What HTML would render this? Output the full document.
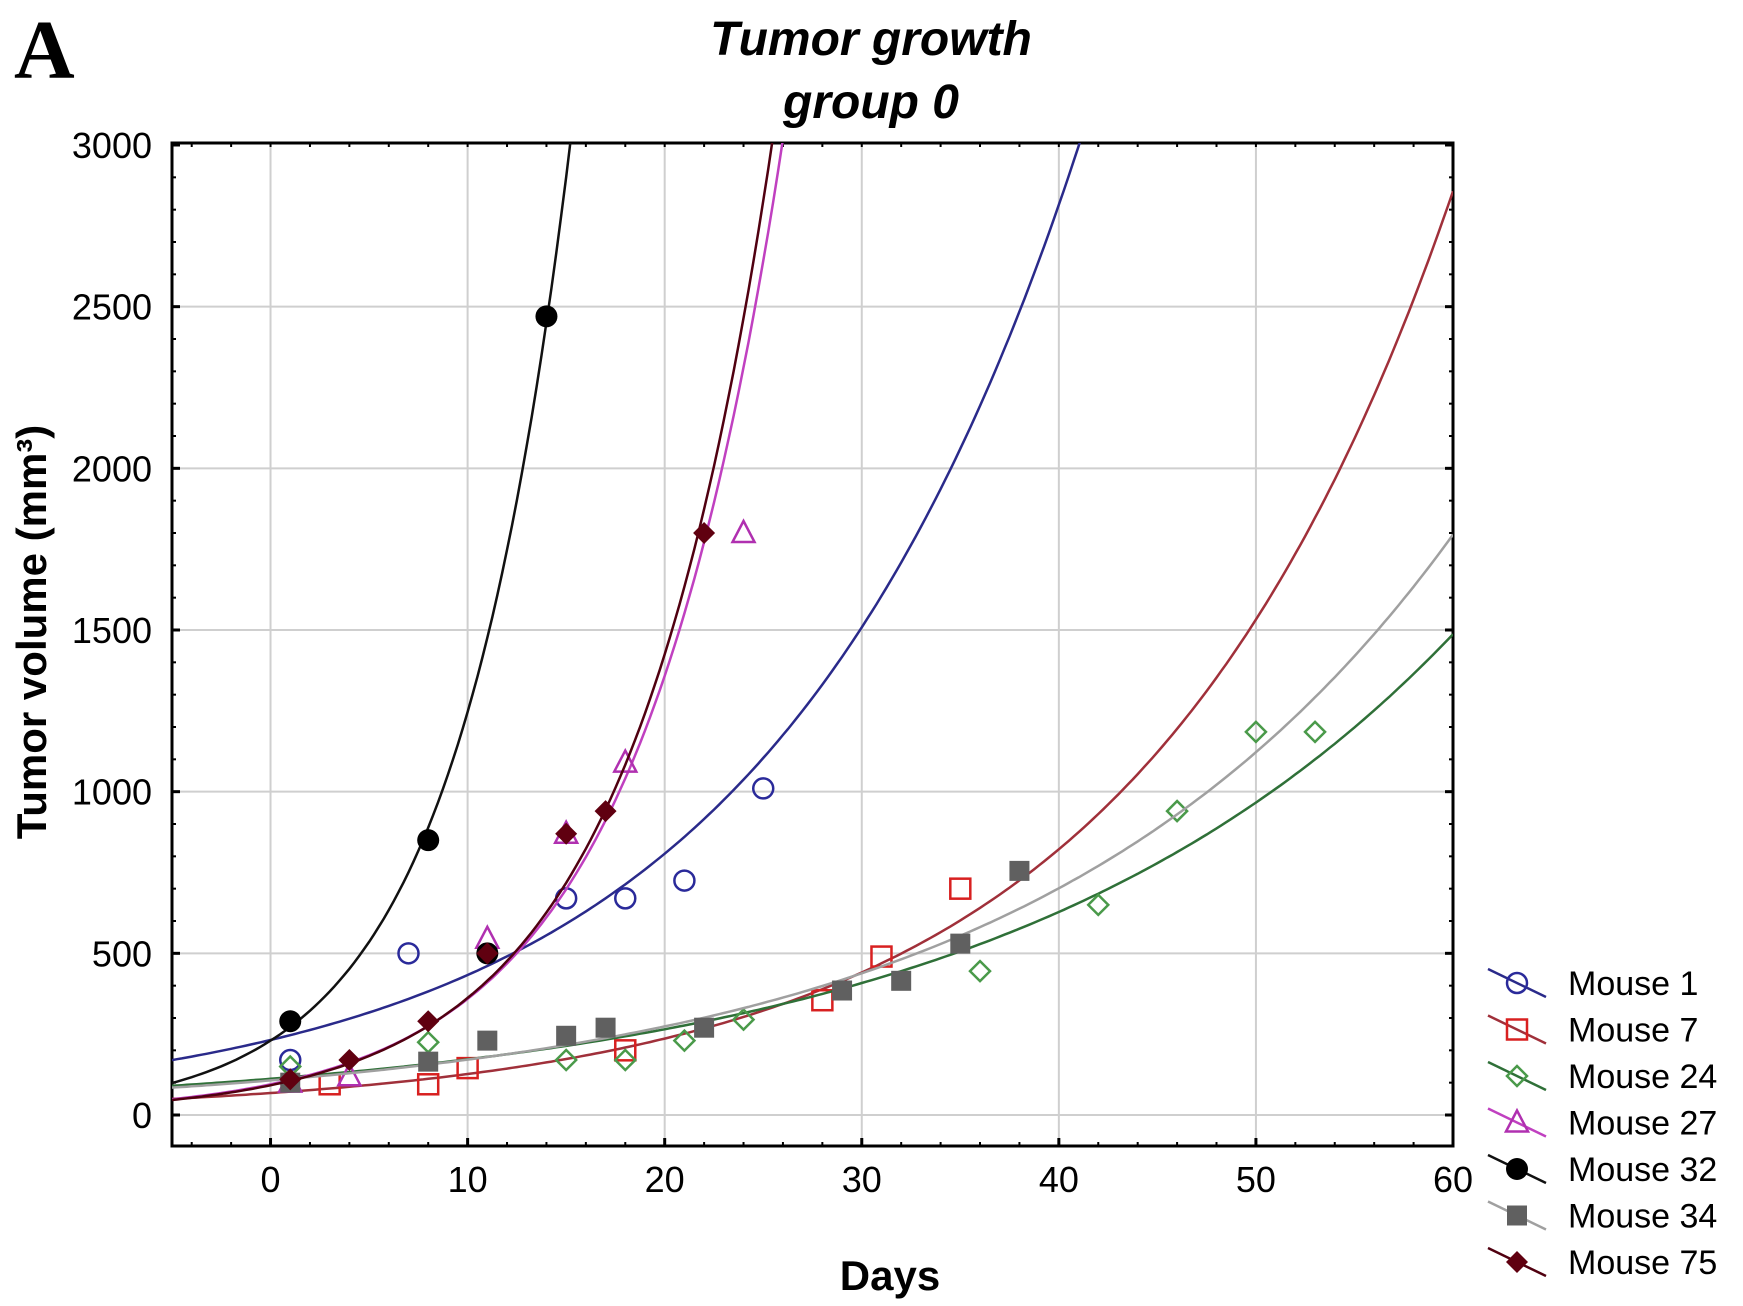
<!DOCTYPE html>
<html><head><meta charset="utf-8"><style>
html,body{margin:0;padding:0;background:#fff;}
svg{display:block;}
text{font-family:"Liberation Sans",sans-serif;}
</style></head><body>
<svg id="chart" width="1743" height="1306" viewBox="0 0 1743 1306" xmlns="http://www.w3.org/2000/svg">
<text x="14" y="78" style="font-family:'Liberation Serif',serif" font-weight="bold" font-size="84">A</text>
<text x="871" y="55" text-anchor="middle" font-weight="bold" font-style="italic" font-size="48">Tumor growth</text>
<text x="871" y="118" text-anchor="middle" font-weight="bold" font-style="italic" font-size="48">group 0</text>
<text transform="translate(46,632) rotate(-90)" text-anchor="middle" font-weight="bold" font-size="42">Tumor volume (mm³)</text>
<text x="890" y="1290" text-anchor="middle" font-weight="bold" font-size="42">Days</text>
<g id="grid"></g><g id="axes"></g><g id="series"></g><g id="legend"></g>
</svg>
<script>
const xTicks=[0,10,20,30,40,50,60];
const yTicks=[0,500,1000,1500,2000,2500,3000];
const seriesNames=["Mouse 1","Mouse 7","Mouse 24","Mouse 27","Mouse 32","Mouse 34","Mouse 75"];
const m1X=[1,7,15,18,21,25], m1Y=[170,500,670,670,725,1010];
const m7X=[3,8,10,18,28,31,35], m7Y=[95,95,145,200,355,490,700];
const m24X=[1,8,15,18,21,24,36,42,46,50,53], m24Y=[150,225,170,170,230,295,445,650,940,1185,1185];
const m27X=[1,4,11,15,18,24], m27Y=[100,120,545,870,1090,1800];
const m32X=[1,8,11,14], m32Y=[290,850,500,2470];
const m34X=[1,8,11,15,17,22,29,32,35,38], m34Y=[100,165,230,245,270,270,385,415,530,755];
const m75X=[1,4,8,11,15,17,22], m75Y=[110,170,290,500,870,940,1800];
// exponential fit parameters y = a*exp(b*x)
const fitA=[232,68,112,95,230,107,92];
const fitB=[0.0624,0.0623,0.0431,0.133,0.169,0.047,0.137];

const L=172,R=1453,T=143,B=1146;
const xMin=-5,xMax=60,y0px=1115,y3000px=145;
function sx(v){return L+(v-xMin)/(xMax-xMin)*(R-L);}
function sy(v){return y0px-(v/3000)*(y0px-y3000px);}
const NS="http://www.w3.org/2000/svg";
function mk(tag,attrs,parent){const e=document.createElementNS(NS,tag);for(const k in attrs)e.setAttribute(k,attrs[k]);parent.appendChild(e);return e;}
const grid=document.getElementById('grid'),axes=document.getElementById('axes'),ser=document.getElementById('series'),leg=document.getElementById('legend');

xTicks.forEach(t=>{
  if(t>xMin&&t<xMax){const g=mk('line',{x1:sx(t),x2:sx(t),y1:T,y2:B,stroke:'#cfcfcf','stroke-width':2},grid);
  
  }
  const tx=mk('text',{x:sx(t),y:B+46,'text-anchor':'middle','font-size':36},axes);tx.textContent=t;
  
  
  mk('line',{x1:sx(t),x2:sx(t),y1:B,y2:B-8,stroke:'#000','stroke-width':3},axes);
});
for(let t=-4;t<60;t+=2){mk('line',{x1:sx(t),x2:sx(t),y1:B,y2:B-4,stroke:'#000','stroke-width':2},axes);mk('line',{x1:sx(t),x2:sx(t),y1:T,y2:T+4,stroke:'#000','stroke-width':2},axes);}
yTicks.forEach(t=>{
  if(t<3000){const g=mk('line',{x1:L,x2:R,y1:sy(t),y2:sy(t),stroke:'#cfcfcf','stroke-width':2},grid);
  
  }
  const tx=mk('text',{x:L-20,y:sy(t)+13,'text-anchor':'end','font-size':36},axes);tx.textContent=t;
  
  
  mk('line',{x1:L,x2:L+8,y1:sy(t),y2:sy(t),stroke:'#000','stroke-width':3},axes);
  mk('line',{x1:R,x2:R-8,y1:sy(t),y2:sy(t),stroke:'#000','stroke-width':3},axes);
});
for(let t=100;t<3000;t+=100){mk('line',{x1:L,x2:L+4,y1:sy(t),y2:sy(t),stroke:'#000','stroke-width':2},axes);mk('line',{x1:R,x2:R-4,y1:sy(t),y2:sy(t),stroke:'#000','stroke-width':2},axes);}
const frame=mk('rect',{x:L,y:T,width:R-L,height:B-T,fill:'none',stroke:'#000','stroke-width':3},axes);



const lineCol=['#2a2a8a','#a0303a','#2f7038','#c040c0','#111','#a0a0a0','#500010'];
const mCol=['#2a2a9a','#d82020','#4a9a4a','#b030b0','#000','#606060','#600010'];
const shapes=['circle','square','diamond','triangle','dot','fsquare','fdiamond'];
const xs=[m1X,m7X,m24X,m27X,m32X,m34X,m75X], ys=[m1Y,m7Y,m24Y,m27Y,m32Y,m34Y,m75Y];

const defs=mk('defs',{},ser);
mk('clipPath',{id:'clip'},defs);
mk('rect',{x:L,y:T,width:R-L,height:B-T},document.getElementById('clip'));

function marker(shape,cx,cy,col,parent){
  const s=10;let e;
  if(shape==='circle')e=mk('circle',{cx,cy,r:s,fill:'none',stroke:col,'stroke-width':2.5},parent);
  else if(shape==='dot')e=mk('circle',{cx,cy,r:s+1,fill:col},parent);
  else if(shape==='square')e=mk('rect',{x:cx-s,y:cy-s,width:2*s,height:2*s,fill:'none',stroke:col,'stroke-width':2.5},parent);
  else if(shape==='fsquare')e=mk('rect',{x:cx-s,y:cy-s,width:2*s,height:2*s,fill:col},parent);
  else if(shape==='diamond')e=mk('polygon',{points:`${cx},${cy-s} ${cx+s},${cy} ${cx},${cy+s} ${cx-s},${cy}`,fill:'none',stroke:col,'stroke-width':2.5},parent);
  else if(shape==='fdiamond')e=mk('polygon',{points:`${cx},${cy-s-1} ${cx+s+1},${cy} ${cx},${cy+s+1} ${cx-s-1},${cy}`,fill:col},parent);
  else e=mk('polygon',{points:`${cx},${cy-s-2} ${cx+s+1},${cy+s-1} ${cx-s-1},${cy+s-1}`,fill:'none',stroke:col,'stroke-width':2.5},parent);
  return e;
}

seriesNames.forEach((nm,i)=>{
  let d='';
  for(let x=xMin;x<=xMax;x+=0.25){const y=fitA[i]*Math.exp(fitB[i]*x);d+=(d?'L':'M')+sx(x).toFixed(1)+','+sy(Math.min(y,3300)).toFixed(1);if(y>3300)break;}
  const p=mk('path',{d,fill:'none',stroke:lineCol[i],'stroke-width':2.5,'clip-path':'url(#clip)'},ser);
  
  
  xs[i].forEach((x,j)=>{
    const m=marker(shapes[i],sx(x),sy(ys[i][j]),mCol[i],ser);
    
    
  });
  const ly=983+i*46.5;
  const g=mk('g',{},leg);
  
  
  mk('line',{x1:1488,y1:ly-14,x2:1546,y2:ly+14,stroke:lineCol[i],'stroke-width':2.5},g);
  marker(shapes[i],1517,ly,mCol[i],g);
  const t=mk('text',{x:1568,y:ly+12,'font-size':34},g);t.textContent=nm;
});
</script>
</body></html>
